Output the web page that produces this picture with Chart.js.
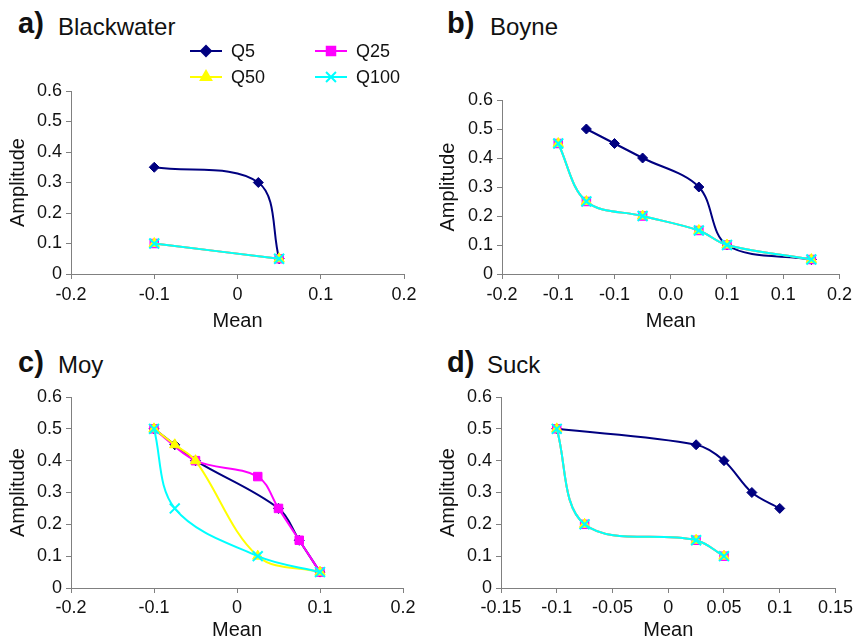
<!DOCTYPE html>
<html>
<head>
<meta charset="utf-8">
<script src="https://cdn.jsdelivr.net/npm/chart.js@4.4.1/dist/chart.umd.min.js"></script>
<style>
  body { margin: 0; width: 857px; height: 640px; background: #fff; position: relative; overflow: hidden;
         font-family: "Liberation Sans", Arial, sans-serif; color: #111; }
  canvas { position: absolute; }
  .tag { position: absolute; font-size: 29px; font-weight: bold; line-height: 29px; white-space: nowrap; }
  .name { position: absolute; font-size: 24px; line-height: 24px; white-space: nowrap; }
</style>
</head>
<body>
<span class="tag" style="left:18px; top:9px">a)</span><span class="name" style="left:58px; top:15px">Blackwater</span>
<span class="tag" style="left:447px; top:9px">b)</span><span class="name" style="left:490px; top:15px">Boyne</span>
<span class="tag" style="left:18px; top:348px">c)</span><span class="name" style="left:58px; top:353px">Moy</span>
<span class="tag" style="left:447px; top:348px">d)</span><span class="name" style="left:487px; top:353px">Suck</span>

<canvas id="chartA" style="left:0px; top:0px" width="430" height="331"></canvas>
<canvas id="chartB" style="left:430px; top:0px" width="427" height="331"></canvas>
<canvas id="chartC" style="left:0px; top:330px" width="430" height="310"></canvas>
<canvas id="chartD" style="left:430px; top:330px" width="427" height="310"></canvas>

<script>
// series names
const seriesNames = ['Q5', 'Q25', 'Q50', 'Q100'];

// tick labels
const yTicks = ['0', '0.1', '0.2', '0.3', '0.4', '0.5', '0.6'];
const xTicksWide = ['-0.2', '-0.1', '0', '0.1', '0.2'];
const xTicksBoyne = ['-0.2', '-0.1', '-0.1', '0.0', '0.1', '0.1', '0.2'];
const xTicksSuck = ['-0.15', '-0.1', '-0.05', '0', '0.05', '0.1', '0.15'];

// a) Blackwater
const blackwaterQ5Mean = [-0.1, 0.025, 0.05];
const blackwaterQ5Amp = [0.35, 0.30, 0.05];
const blackwaterQ25Mean = [-0.1, 0.05];
const blackwaterQ25Amp = [0.10, 0.05];
const blackwaterQ50Mean = [-0.1, 0.05];
const blackwaterQ50Amp = [0.10, 0.05];
const blackwaterQ100Mean = [-0.1, 0.05];
const blackwaterQ100Amp = [0.10, 0.05];

// b) Boyne
const boyneQ5Mean = [-0.075, -0.05, -0.025, 0.025, 0.05, 0.125];
const boyneQ5Amp = [0.50, 0.45, 0.40, 0.30, 0.10, 0.05];
const boyneQ25Mean = [-0.1, -0.075, -0.025, 0.025, 0.05, 0.125];
const boyneQ25Amp = [0.45, 0.25, 0.20, 0.15, 0.10, 0.05];
const boyneQ50Mean = [-0.1, -0.075, -0.025, 0.025, 0.05, 0.125];
const boyneQ50Amp = [0.45, 0.25, 0.20, 0.15, 0.10, 0.05];
const boyneQ100Mean = [-0.1, -0.075, -0.025, 0.025, 0.05, 0.125];
const boyneQ100Amp = [0.45, 0.25, 0.20, 0.15, 0.10, 0.05];

// c) Moy
const moyQ5Mean = [-0.1, -0.075, -0.05, 0.05, 0.075, 0.1];
const moyQ5Amp = [0.50, 0.45, 0.40, 0.25, 0.15, 0.05];
const moyQ25Mean = [-0.1, -0.05, 0.025, 0.05, 0.075, 0.1];
const moyQ25Amp = [0.50, 0.40, 0.35, 0.25, 0.15, 0.05];
const moyQ50Mean = [-0.1, -0.075, -0.05, 0.025, 0.1];
const moyQ50Amp = [0.50, 0.45, 0.40, 0.10, 0.05];
const moyQ100Mean = [-0.1, -0.075, 0.025, 0.1];
const moyQ100Amp = [0.50, 0.25, 0.10, 0.05];

// d) Suck
const suckQ5Mean = [-0.1, 0.025, 0.05, 0.075, 0.1];
const suckQ5Amp = [0.50, 0.45, 0.40, 0.30, 0.25];
const suckQ25Mean = [-0.1, -0.075, 0.025, 0.05];
const suckQ25Amp = [0.50, 0.20, 0.15, 0.10];
const suckQ50Mean = [-0.1, -0.075, 0.025, 0.05];
const suckQ50Amp = [0.50, 0.20, 0.15, 0.10];
const suckQ100Mean = [-0.1, -0.075, 0.025, 0.05];
const suckQ100Amp = [0.50, 0.20, 0.15, 0.10];

const styles = [
    { color: '#000080', pointStyle: 'rectRot', radius: 5, order: 4 },
    { color: '#FF00FF', pointStyle: 'rect', radius: 6, order: 3 },
    { color: '#FFFF00', pointStyle: 'triangle', radius: 6, order: 2 },
    { color: '#00FFFF', pointStyle: 'crossRot', radius: 7, order: 1 }
];

const FONT = '"Liberation Sans", Arial, sans-serif';
const AXIS_GREY = '#808080';

function toPoints(xs, ys) {
    return xs.map((x, i) => ({ x: x, y: ys[i] }));
}

function makeDatasets(pairs) {
    return pairs.map((p, i) => ({
        label: seriesNames[i],
        data: toPoints(p[0], p[1]),
        showLine: true,
        tension: 0.35,
        borderColor: styles[i].color,
        backgroundColor: styles[i].color,
        borderWidth: 2,
        pointStyle: styles[i].pointStyle,
        pointRadius: styles[i].radius,
        pointBorderWidth: i === 3 ? 2 : 1,
        pointBackgroundColor: styles[i].color,
        pointBorderColor: styles[i].color,
        order: styles[i].order
    }));
}

// legend drawn inside panel a, line + marker like the original
const sampleLegend = {
    id: 'sampleLegend',
    afterDraw(chart) {
        const ctx = chart.ctx;
        const spots = [[190, 51], [315, 51], [190, 77], [315, 77]];
        ctx.save();
        seriesNames.forEach((name, i) => {
            const [x, y] = spots[i];
            const st = styles[i];
            ctx.strokeStyle = st.color;
            ctx.fillStyle = st.color;
            ctx.lineWidth = 2;
            ctx.beginPath();
            ctx.moveTo(x, y);
            ctx.lineTo(x + 32, y);
            ctx.stroke();
            Chart.helpers.drawPoint(ctx, {
                pointStyle: st.pointStyle,
                radius: st.radius,
                borderWidth: i === 3 ? 2 : 1,
                rotation: 0
            }, x + 16, y);
            ctx.fillStyle = '#111';
            ctx.font = '18px ' + FONT;
            ctx.textBaseline = 'middle';
            ctx.textAlign = 'left';
            ctx.fillText(name, x + 41, y + 1);
        });
        ctx.restore();
    }
};

function makePanel(id, cfg) {
    const canvas = document.getElementById(id);
    const ctx = canvas.getContext('2d');
    const xLabels = cfg.xLabels;
    return new Chart(ctx, {
        type: 'scatter',
        data: { datasets: makeDatasets(cfg.series) },
        options: {
            responsive: false,
            animation: false,
            layout: {
                padding: { left: 0, top: cfg.top, right: cfg.right, bottom: 0 }
            },
            plugins: {
                legend: { display: false },
                tooltip: { enabled: false }
            },
            scales: {
                x: {
                    type: 'linear',
                    min: cfg.xMin,
                    max: cfg.xMax,
                    afterFit: s => { s.height = cfg.xHeight; },
                    ticks: {
                        stepSize: cfg.xStep,
                        autoSkip: false,
                        maxRotation: 0,
                        padding: cfg.xPad,
                        color: '#111',
                        font: { family: FONT, size: 18 },
                        callback: v => xLabels[Math.round((v - cfg.xMin) / cfg.xStep)]
                    },
                    grid: { drawOnChartArea: false, drawTicks: true, tickLength: 5, color: AXIS_GREY },
                    border: { color: AXIS_GREY, width: 1 },
                    title: {
                        display: true, text: 'Mean', color: '#111',
                        font: { family: FONT, size: 20, lineHeight: 1 },
                        padding: { top: 0, bottom: 0 }
                    }
                },
                y: {
                    type: 'linear',
                    min: 0,
                    max: 0.6,
                    afterFit: s => { s.width = cfg.yWidth; },
                    ticks: {
                        stepSize: 0.1,
                        padding: 4,
                        color: '#111',
                        font: { family: FONT, size: 18 },
                        callback: v => yTicks[Math.round(v / 0.1)]
                    },
                    grid: { drawOnChartArea: false, drawTicks: true, tickLength: 5, color: AXIS_GREY },
                    border: { color: AXIS_GREY, width: 1 },
                    title: {
                        display: true, text: 'Amplitude', color: '#111',
                        font: { family: FONT, size: 20, lineHeight: 1 },
                        padding: { top: 8, bottom: 0 }
                    }
                }
            }
        },
        plugins: cfg.legend ? [sampleLegend] : []
    });
}

document.addEventListener('DOMContentLoaded', function () {
    makePanel('chartA', {
        top: 91, right: 26, yWidth: 71, xHeight: 57, xPad: 5,
        xMin: -0.2, xMax: 0.2, xStep: 0.1, xLabels: xTicksWide, legend: true,
        series: [[blackwaterQ5Mean, blackwaterQ5Amp], [blackwaterQ25Mean, blackwaterQ25Amp],
                 [blackwaterQ50Mean, blackwaterQ50Amp], [blackwaterQ100Mean, blackwaterQ100Amp]]
    });
    makePanel('chartB', {
        top: 100, right: 427 - 410.5, yWidth: 72, xHeight: 57, xPad: 5,
        xMin: -0.15, xMax: 0.15, xStep: 0.05, xLabels: xTicksBoyne,
        series: [[boyneQ5Mean, boyneQ5Amp], [boyneQ25Mean, boyneQ25Amp],
                 [boyneQ50Mean, boyneQ50Amp], [boyneQ100Mean, boyneQ100Amp]]
    });
    makePanel('chartC', {
        top: 67, right: 430 - 403, yWidth: 71, xHeight: 52, xPad: 4,
        xMin: -0.2, xMax: 0.2, xStep: 0.1, xLabels: xTicksWide,
        series: [[moyQ5Mean, moyQ5Amp], [moyQ25Mean, moyQ25Amp],
                 [moyQ50Mean, moyQ50Amp], [moyQ100Mean, moyQ100Amp]]
    });
    makePanel('chartD', {
        top: 67, right: 427 - 408, yWidth: 71, xHeight: 52, xPad: 4,
        xMin: -0.15, xMax: 0.15, xStep: 0.05, xLabels: xTicksSuck,
        series: [[suckQ5Mean, suckQ5Amp], [suckQ25Mean, suckQ25Amp],
                 [suckQ50Mean, suckQ50Amp], [suckQ100Mean, suckQ100Amp]]
    });
});
</script>
</body>
</html>
